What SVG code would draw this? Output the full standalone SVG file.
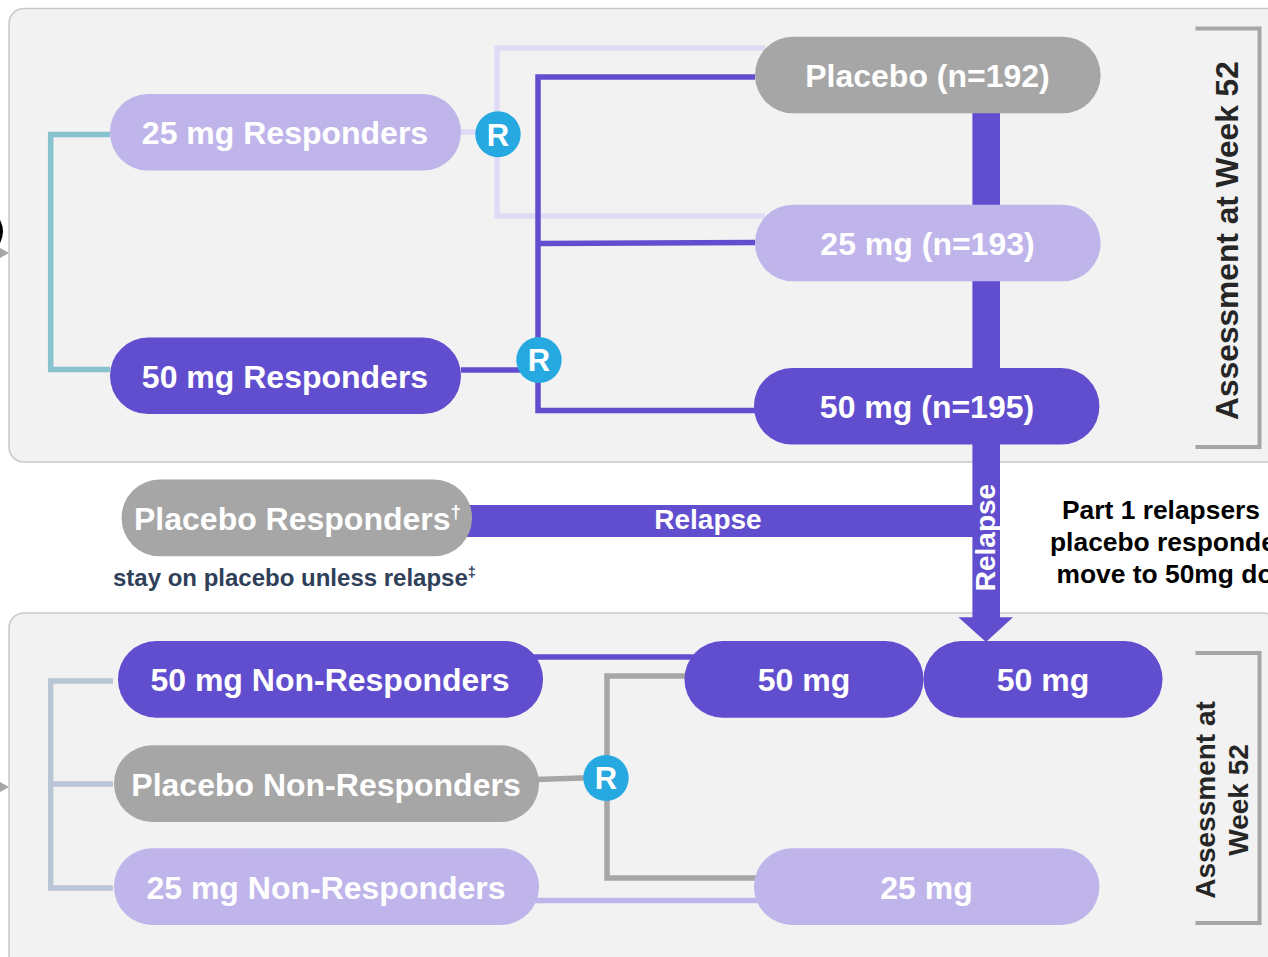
<svg xmlns="http://www.w3.org/2000/svg" width="1268" height="957" viewBox="0 0 1268 957">
<style>
text{font-family:"Liberation Sans",Arial,sans-serif;font-weight:700}
.panel{fill:#f2f2f2;stroke:#c8c8c8;stroke-width:1.5}
.pl{font-size:32px;fill:#fff;text-anchor:middle}
.purple{fill:#614ecf}.light{fill:#bfb5ea}.gray{fill:#a6a6a6}
.c{fill:none;stroke-width:5.5}
.rb{fill:#25a9e0}
.rt{font-size:31px;fill:#fff;text-anchor:middle}
.br{fill:none;stroke:#a6a6a6;stroke-width:4}
.rot{fill:#262626;text-anchor:middle}
.note{font-size:26.4px;fill:#000;text-anchor:middle}
</style>
<g id="panels">
<rect class="panel" x="9" y="8.5" width="1290" height="453.5" rx="15"/>
<rect class="panel" x="9" y="613" width="1269" height="360" rx="15"/>
</g>
<g id="connectors">
<path class="c" stroke="#86c3cf" d="M110 134.5H50.7V369.5H110"/>
<path class="c" stroke="#dfdbf6" d="M461 132H497M765 48H497V216H765"/>
<path class="c" stroke="#614ecf" d="M755 77H538V410.5H755M538 243.5L755 242.5M461 370H520"/>
<path class="c" stroke="#b8c6d6" d="M113 681H50.7V888H113M50.7 784H113"/>
<path class="c" stroke="#614ecf" d="M530 657H695"/>
<path class="c" stroke="#a6a6a6" d="M690 676H607V878H760M535 779.5L590 777.7"/>
<path class="c" stroke="#bfb5ea" d="M530 900.5H762"/>
<rect class="purple" x="972.4" y="110" width="27.6" height="508"/>
<rect class="purple" x="465" y="505" width="520" height="32"/>
<path class="purple" d="M958.4 617.3H1013L986 642Z"/>
<path class="gray" d="M0 248L9 253L0 258Z"/>
<path class="gray" d="M0 782L9 787L0 792Z"/>
<path d="M-1.5 220Q4.5 231.500 -1.500 243" fill="none" stroke="#000" stroke-width="3"/>
</g>
<g id="n-25-resp"><rect class="light" x="110" y="94" width="351" height="76.6" rx="38"/><text class="pl" x="285" y="144">25 mg Responders</text></g>
<g id="n-50-resp"><rect class="purple" x="110" y="337.5" width="351" height="76.6" rx="38"/><text class="pl" x="285" y="388">50 mg Responders</text></g>
<g id="n-placebo"><rect class="gray" x="755" y="36.7" width="345.6" height="76.6" rx="38"/><text class="pl" x="927.5" y="87">Placebo (n=192)</text></g>
<g id="n-25"><rect class="light" x="755" y="204.7" width="345.6" height="76.6" rx="38"/><text class="pl" x="927.5" y="255">25 mg (n=193)</text></g>
<g id="n-50"><rect class="purple" x="754" y="368" width="345.4" height="76.6" rx="38"/><text class="pl" x="927" y="418">50 mg (n=195)</text></g>
<g id="n-placebo-resp"><rect class="gray" x="121.6" y="479.5" width="350.4" height="76.8" rx="38"/><text class="pl" x="134" y="530" style="text-anchor:start">Placebo Responders<tspan font-size="19" dy="-12">†</tspan></text></g>
<g id="n-stay"><text x="113" y="586" font-size="24" fill="#2f4058">stay on placebo unless relapse<tspan font-size="14.5" dy="-9">‡</tspan></text></g>
<g id="n-50-nr"><rect class="purple" x="118" y="641" width="425" height="76.7" rx="38"/><text class="pl" x="330" y="691">50 mg Non-Responders</text></g>
<g id="n-pl-nr"><rect class="gray" x="114" y="745.3" width="425" height="76.7" rx="38"/><text class="pl" x="326" y="796">Placebo Non-Responders</text></g>
<g id="n-25-nr"><rect class="light" x="114" y="848.3" width="425" height="76.7" rx="38"/><text class="pl" x="326" y="899">25 mg Non-Responders</text></g>
<g id="n-50a"><rect class="purple" x="684.5" y="641" width="239" height="76.7" rx="38"/><text class="pl" x="804" y="691">50 mg</text></g>
<g id="n-50b"><rect class="purple" x="923.5" y="641" width="239" height="76.7" rx="38"/><text class="pl" x="1043" y="691">50 mg</text></g>
<g id="n-25b"><rect class="light" x="754" y="848.3" width="345.4" height="76.7" rx="38"/><text class="pl" x="926.5" y="899">25 mg</text></g>
<g id="r1"><ellipse class="rb" cx="498" cy="134.300" rx="22.7" ry="23"/><text class="rt" x="498" y="145.500">R</text></g>
<g id="r2"><ellipse class="rb" cx="539" cy="360" rx="22.7" ry="23"/><text class="rt" x="539" y="371">R</text></g>
<g id="r3"><ellipse class="rb" cx="606" cy="778" rx="22.7" ry="23"/><text class="rt" x="606" y="789">R</text></g>
<g id="labels">
<text x="708" y="529" font-size="28" fill="#fff" text-anchor="middle">Relapse</text>
<text transform="translate(995 537.5) rotate(-90)" font-size="28" fill="#fff" text-anchor="middle">Relapse</text>
<text class="note" x="1161" y="519">Part 1 relapsers</text>
<text class="note" x="1050" y="551" style="text-anchor:start">placebo responders</text>
<text class="note" x="1056.5" y="583" style="text-anchor:start">move to 50mg dose</text>
<text class="rot" transform="translate(1238 240.500) rotate(-90)" font-size="31.700">Assessment at Week 52</text>
<text class="rot" transform="translate(1214.500 800) rotate(-90)" font-size="28">Assessment at</text>
<text class="rot" transform="translate(1247.500 800) rotate(-90)" font-size="28">Week 52</text>
</g>
<g id="brackets">
<path class="br" d="M1195.5 28.5H1259.5V447H1195.5"/>
<path class="br" d="M1195.5 653H1259.5V923H1195.5"/>
</g>
</svg>
